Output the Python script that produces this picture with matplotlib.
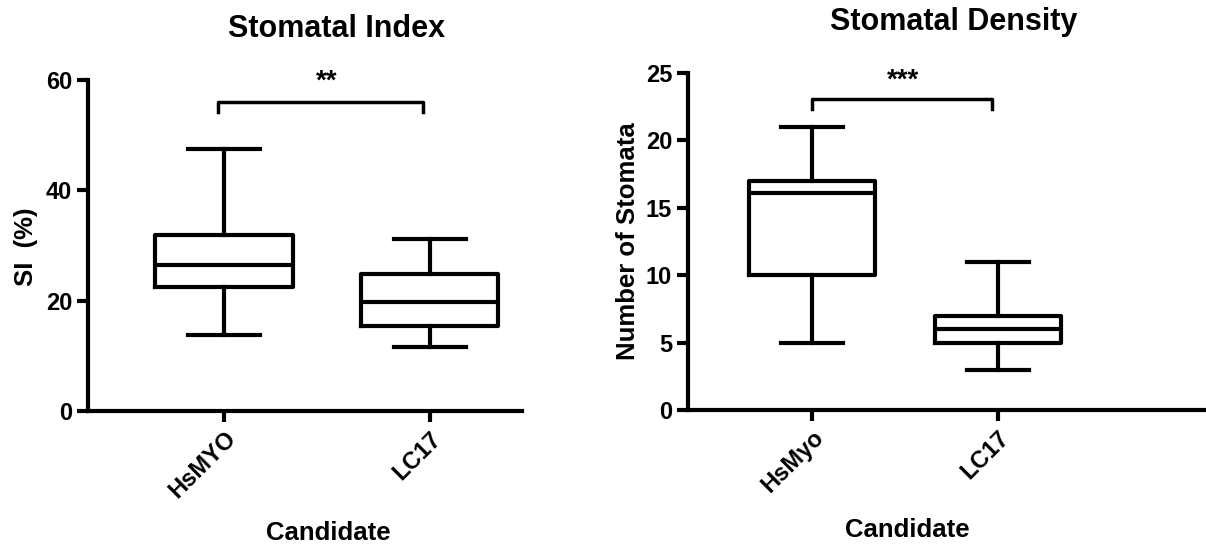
import matplotlib
matplotlib.use("Agg")
import matplotlib.pyplot as plt
from matplotlib import rcParams

rcParams['font.family'] = ['Liberation Sans', 'DejaVu Sans']
rcParams['font.weight'] = 'bold'

# box statistics: whislo, q1, med, q3, whishi
si_labels = ['HsMYO', 'LC17']
si_whislo = [13.8, 11.6]
si_q1 = [22.4, 15.4]
si_med = [26.4, 19.8]
si_q3 = [31.9, 24.8]
si_whishi = [47.5, 31.2]

sd_labels = ['HsMyo', 'LC17']
sd_whislo = [5, 3]
sd_q1 = [10, 5]
sd_med = [16.1, 6]
sd_q3 = [17, 7]
sd_whishi = [21, 11]


def make_stats(lo, q1, med, q3, hi):
    out = []
    for i in range(len(med)):
        out.append({'whislo': lo[i], 'q1': q1[i], 'med': med[i], 'q3': q3[i],
                    'whishi': hi[i], 'fliers': []})
    return out


def style(ax, lw=3):
    for s in ['top', 'right']:
        ax.spines[s].set_visible(False)
    for s in ['left', 'bottom']:
        ax.spines[s].set_linewidth(lw)
    ax.tick_params(axis='both', direction='out', width=lw, length=8, labelsize=17)
    for lab in ax.get_yticklabels():
        lab.set_fontweight('bold')


fig = plt.figure(figsize=(12.06, 5.5), dpi=100)

line_kw = dict(color='black', linewidth=3)

# left panel
ax1 = fig.add_axes([88 / 1206, 139 / 550, 434 / 1206, 331 / 550])
ax1.bxp(make_stats(si_whislo, si_q1, si_med, si_q3, si_whishi), positions=[1, 2],
        widths=0.67, boxprops=line_kw, whiskerprops=line_kw, capprops=line_kw,
        medianprops=line_kw, capwidths=0.35, manage_ticks=False)
ax1.set_xlim(0.337, 2.45)
ax1.set_ylim(0, 60)
ax1.set_yticks([0, 20, 40, 60])
ax1.set_xticks([1, 2])
ax1.set_xticklabels(si_labels, rotation=45, ha='right', va='top',
                    rotation_mode='anchor', fontweight='bold')
style(ax1)
ax1.set_ylabel('SI  (%)', fontsize=18.5, fontweight='bold')
ax1.yaxis.set_label_coords(-0.115, 0.495)
ax1.plot([0.97, 0.97, 1.97, 1.97], [54.2, 56, 56, 54.2], color='black', lw=2.5,
         clip_on=False)
ax1.text(1.5, 57.3, '**', ha='center', va='bottom', fontsize=20, fontweight='bold')

# right panel
ax2 = fig.add_axes([688 / 1206, 140 / 550, 518 / 1206, 337 / 550])
ax2.bxp(make_stats(sd_whislo, sd_q1, sd_med, sd_q3, sd_whishi), positions=[1, 2],
        widths=0.68, boxprops=line_kw, whiskerprops=line_kw, capprops=line_kw,
        medianprops=line_kw, capwidths=0.33, manage_ticks=False)
ax2.set_xlim(0.333, 3.12)
ax2.set_ylim(0, 25)
ax2.set_yticks([0, 5, 10, 15, 20, 25])
ax2.set_xticks([1, 2])
ax2.set_xticklabels(sd_labels, rotation=45, ha='right', va='top',
                    rotation_mode='anchor', fontweight='bold')
style(ax2)
ax2.set_ylabel('Number of Stomata', fontsize=18.5, fontweight='bold')
ax2.yaxis.set_label_coords(-0.093, 0.5)
ax2.plot([1.0, 1.0, 1.97, 1.97], [22.3, 23.1, 23.1, 22.3], color='black', lw=2.5,
         clip_on=False)
ax2.text(1.49, 23.5, '***', ha='center', va='bottom', fontsize=20, fontweight='bold')

fig.text(337 / 1206, 1 - 29 / 550, 'Stomatal Index', ha='center', va='center',
         fontsize=22, fontweight='bold')
fig.text(954 / 1206, 1 - 22 / 550, 'Stomatal Density', ha='center', va='center',
         fontsize=22, fontweight='bold')
fig.text(328 / 1206, 1 - 533 / 550, 'Candidate', ha='center', va='center',
         fontsize=18.5, fontweight='bold')
fig.text(907 / 1206, 1 - 530 / 550, 'Candidate', ha='center', va='center',
         fontsize=18.5, fontweight='bold')

fig.savefig('out.png', dpi=100)
